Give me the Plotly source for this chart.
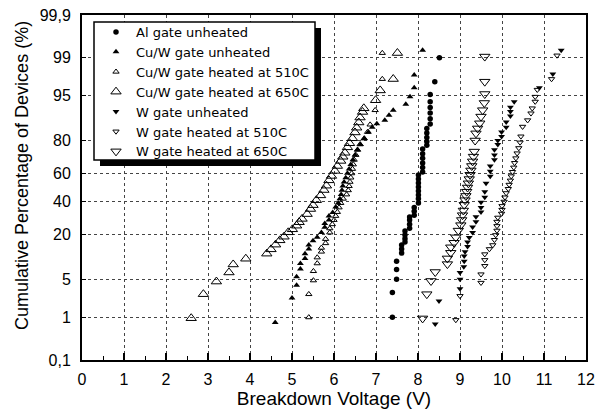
import plotly.graph_objects as go
from statistics import NormalDist

nd = NormalDist()

def probit(values):
    return [nd.inv_cdf(v / 100.0) for v in values]

# ---------------- data (breakdown voltage in V, cumulative percentage in %) ----------------
al_v = [7.39, 7.39, 7.49, 7.49, 7.49, 7.61, 7.61, 7.61, 7.69, 7.69, 7.69, 7.69,
        7.80, 7.80, 7.80, 7.80, 7.91, 7.91, 7.91,
        8.01, 8.01, 8.01, 8.01, 8.01, 8.01, 8.01, 8.01,
        8.11, 8.11, 8.11, 8.11, 8.11, 8.11,
        8.21, 8.21, 8.21, 8.21, 8.21,
        8.29, 8.29, 8.29, 8.29, 8.29, 8.29, 8.40, 8.51]
al_p = [1.0, 3.0, 5.0, 7.1, 9.3, 12.0, 13.5, 15.2, 16.5, 17.9, 19.7, 21.8,
        23.3, 25.5, 28.0, 29.9, 31.0, 33.5, 36.0,
        39.0, 42.0, 44.7, 47.5, 50.4, 53.3, 56.0, 58.8,
        61.0, 64.0, 67.0, 70.0, 72.8, 75.5,
        77.5, 79.5, 81.5, 83.5, 85.5,
        87.2, 89.1, 90.9, 92.4, 93.8, 95.2, 97.1, 99.0]

cuw_v = [4.60, 5.00, 5.11, 5.11, 5.20, 5.20, 5.31, 5.31, 5.40, 5.40, 5.50, 5.60,
         5.70, 5.78, 5.78, 5.88, 5.88, 5.97, 6.04, 6.10, 6.14, 6.17, 6.19, 6.21,
         6.24, 6.28, 6.32, 6.36, 6.40, 6.45, 6.50, 6.56, 6.63, 6.72, 6.82, 6.91,
         7.02, 7.21, 7.31, 7.41, 7.71, 7.81, 7.91, 7.91, 8.11]
cuw_p = [0.78, 2.4, 4.0, 5.5, 7.2, 8.7, 10.2, 11.8, 13.5, 15.1, 17.0, 18.6,
         21.0, 23.8, 26.0, 28.0, 30.5, 32.7, 36.3, 39.0, 42.0, 45.0, 48.0, 51.0,
         54.0, 57.0, 60.0, 63.0, 66.0, 69.0, 72.0, 75.0, 78.0, 81.0, 84.0, 86.0,
         87.3, 88.6, 90.2, 91.7, 93.2, 94.8, 96.3, 97.8, 99.3]

cuw510_v = [5.40, 5.40, 5.51, 5.51, 5.60, 5.60, 5.70, 5.70, 5.80, 5.80, 5.90, 5.90,
            5.96, 6.00, 6.04, 6.08, 6.12, 6.16, 6.22, 6.30, 6.34, 6.36, 6.38, 6.40,
            6.42, 6.44, 6.46, 6.48, 6.52, 6.56, 6.62, 6.72, 6.80, 6.86, 6.98, 7.15, 7.15]
cuw510_p = [1.0, 2.8, 4.8, 6.7, 8.7, 10.5, 12.5, 14.0, 15.9, 17.8, 21.0, 23.2,
            25.5, 28.0, 30.5, 33.0, 36.0, 39.0, 42.0, 45.0, 48.0, 51.0, 54.0, 57.0,
            60.0, 63.0, 66.0, 69.0, 72.0, 75.0, 78.0, 81.0, 84.0, 87.0, 91.7, 97.4, 99.2]

cuw650_v = [2.60, 2.89, 3.20, 3.50, 3.60, 3.90, 4.40, 4.50, 4.61, 4.71, 4.81, 4.91,
            5.01, 5.11, 5.17, 5.24, 5.36, 5.44, 5.50, 5.58, 5.68, 5.76, 5.82, 5.88,
            5.94, 6.02, 6.08, 6.16, 6.21, 6.26, 6.32, 6.37, 6.44, 6.50, 6.54, 6.59,
            6.62, 6.68, 6.71, 6.99, 7.10, 7.41, 7.51]
cuw650_p = [0.96, 2.8, 4.6, 6.4, 8.4, 10.1, 11.8, 13.4, 15.3, 17.2, 18.9, 21.1,
            22.7, 24.7, 26.7, 28.7, 31.7, 35.0, 37.6, 41.0, 44.4, 48.2, 51.3, 55.1,
            58.2, 61.7, 65.0, 68.3, 70.9, 73.3, 76.4, 78.6, 81.1, 83.8, 85.8, 87.8,
            89.5, 91.2, 92.2, 94.1, 95.9, 97.4, 99.2]

w_v = [8.41, 8.50, 9.00, 9.00, 9.00, 9.09, 9.10, 9.10, 9.12, 9.18, 9.18, 9.22,
       9.30, 9.30, 9.38, 9.38, 9.50, 9.50, 9.50, 9.59, 9.59, 9.62, 9.72, 9.72,
       9.72, 9.82, 9.82, 9.82, 9.90, 9.90, 9.99, 9.99, 10.10, 10.10, 10.20, 10.20,
       10.20, 10.29, 10.89, 11.21, 11.41]
w_p = [0.72, 2.1, 3.5, 5.0, 6.4, 7.8, 9.3, 11.0, 12.5, 14.5, 16.5, 18.5,
       21.0, 24.0, 27.0, 30.0, 33.0, 36.0, 39.5, 43.0, 47.0, 53.0, 58.0, 61.5,
       65.0, 69.0, 72.0, 75.0, 78.0, 80.0, 82.0, 84.0, 86.0, 88.0, 90.0, 91.3,
       92.5, 93.8, 96.3, 97.9, 99.3]

w510_v = [8.90, 9.00, 9.50, 9.50, 9.59, 9.59, 9.59, 9.70, 9.78, 9.82, 9.85, 9.88,
          9.88, 9.88, 9.90, 9.99, 10.00, 10.00, 10.05, 10.07, 10.10, 10.15, 10.17, 10.20,
          10.22, 10.25, 10.28, 10.30, 10.33, 10.36, 10.40, 10.43, 10.45, 10.49, 10.61, 10.69,
          10.72, 10.79, 10.79, 10.84, 11.18, 11.31]
w510_p = [0.88, 2.6, 4.4, 6.0, 8.0, 9.7, 11.6, 13.5, 15.1, 17.4, 19.7, 22.0,
          24.5, 27.0, 29.5, 32.0, 34.5, 37.0, 40.0, 43.0, 46.0, 49.0, 52.0, 55.0,
          58.0, 61.0, 64.0, 67.0, 70.0, 73.0, 76.0, 79.0, 82.0, 86.2, 88.6, 90.8,
          92.2, 93.8, 94.8, 96.0, 97.4, 99.1]

w650_v = [8.11, 8.21, 8.31, 8.41, 8.70, 8.70, 8.78, 8.78, 8.86, 8.90, 8.96, 9.02,
          9.04, 9.06, 9.08, 9.10, 9.12, 9.14, 9.16, 9.18, 9.20, 9.22, 9.24, 9.26,
          9.28, 9.30, 9.32, 9.34, 9.36, 9.38, 9.42, 9.47, 9.50, 9.54, 9.58, 9.59,
          9.59, 9.59]
w650_p = [0.95, 2.8, 4.7, 6.5, 8.5, 10.2, 12.1, 14.2, 16.1, 18.6, 22.0, 25.0,
          28.0, 31.0, 34.0, 37.8, 41.0, 44.0, 47.0, 50.0, 53.0, 56.0, 59.0, 62.0,
          65.0, 68.0, 71.0, 74.0, 80.0, 83.4, 85.5, 87.5, 89.8, 91.7, 93.5, 95.3,
          97.1, 99.05]

series_names = ["Al gate unheated", "Cu/W gate unheated", "Cu/W gate heated at 510C",
                "Cu/W gate heated at 650C", "W gate unheated", "W gate heated at 510C",
                "W gate heated at 650C"]

y_tick_pct = [0.1, 1, 5, 20, 40, 60, 80, 95, 99, 99.9]
y_tick_text = ["0,1", "1", "5", "20", "40", "60", "80", "95", "99", "99,9"]
x_ticks = list(range(0, 13))
x_title = "Breakdown Voltage (V)"
y_title = "Cumulative Percentage of Devices (%)"

# ---------------- figure ----------------
FONT = "Arial, Liberation Sans, sans-serif"
LEG_FONT = "DejaVu Sans, Arial, sans-serif"
series = [
    (al_v, al_p, dict(symbol="circle", size=5.5, color="black")),
    (cuw_v, cuw_p, dict(symbol="triangle-up", size=6, color="black")),
    (cuw510_v, cuw510_p, dict(symbol="triangle-up-open", size=5.5, color="black", line=dict(width=1))),
    (cuw650_v, cuw650_p, dict(symbol="triangle-up-open", size=9, color="black", line=dict(width=1))),
    (w_v, w_p, dict(symbol="triangle-down", size=6, color="black")),
    (w510_v, w510_p, dict(symbol="triangle-down-open", size=5.5, color="black", line=dict(width=1))),
    (w650_v, w650_p, dict(symbol="triangle-down-open", size=9, color="black", line=dict(width=1))),
]

fig = go.Figure()
for name, (xv, pv, mk) in zip(series_names, series):
    fig.add_trace(go.Scatter(x=xv, y=probit(pv), mode="markers", name=name,
                             marker=mk, cliponaxis=False))

ymin = nd.inv_cdf(0.001)
ymax = nd.inv_cdf(0.999)

W, H = 606, 414
L, R, T, B = 82, 20, 15, 54
pw, ph = W - L - R, H - T - B

def px_to_paper(px, py):
    return (px - L) / pw, (H - B - py) / ph

# legend frame (pixel positions of the reference), drawn as shapes
bx0, by1 = px_to_paper(94, 22)
bx1, by0 = px_to_paper(315, 160)
sx0, sy1 = px_to_paper(100, 28)
sx1, sy0 = px_to_paper(321, 166)
lx0, ly0 = px_to_paper(96, 17)
ytx, yty = px_to_paper(22, 176)

fig.add_shape(type="rect", xref="paper", yref="paper", x0=sx0, x1=sx1, y0=sy0, y1=sy1,
              fillcolor="black", line=dict(width=0), layer="above")
fig.add_shape(type="rect", xref="paper", yref="paper", x0=bx0, x1=bx1, y0=by0, y1=by1,
              fillcolor="white", line=dict(width=1.5, color="black"), layer="above")

fig.add_annotation(text=y_title, xref="paper", yref="paper", x=ytx, y=yty,
                   xanchor="center", yanchor="middle", textangle=-90, showarrow=False,
                   font=dict(family=FONT, size=18, color="black"))

fig.update_layout(
    width=W, height=H,
    margin=dict(l=L, r=R, t=T, b=B, autoexpand=False),
    paper_bgcolor="white", plot_bgcolor="white",
    font=dict(family=FONT, size=16, color="black"),
    showlegend=True,
    legend=dict(x=lx0, y=ly0, xanchor="left", yanchor="top",
                bgcolor="rgba(0,0,0,0)", borderwidth=0,
                font=dict(family=LEG_FONT, size=13, color="black"),
                tracegroupgap=0, itemsizing="trace"),
)

fig.update_xaxes(
    range=[0, 12], tickvals=x_ticks, ticktext=[str(t) for t in x_ticks],
    showgrid=True, gridcolor="#444", griddash="dot", gridwidth=1,
    showline=True, linecolor="black", linewidth=2, mirror=True,
    ticks="inside", ticklen=7, tickwidth=1.5, tickcolor="black",
    minor=dict(dtick=0.5, tick0=0, ticks="inside", ticklen=4, tickwidth=1, tickcolor="black", showgrid=False),
    zeroline=False, ticklabelstandoff=4,
    title=dict(text=x_title, font=dict(size=19), standoff=4),
    tickfont=dict(size=16),
)
fig.update_yaxes(
    range=[ymin, ymax], tickvals=probit(y_tick_pct), ticktext=y_tick_text,
    showgrid=True, gridcolor="#444", griddash="dot", gridwidth=1,
    showline=True, linecolor="black", linewidth=2, mirror=True,
    ticks="inside", ticklen=4, tickwidth=1, tickcolor="black",
    zeroline=False, ticklabelstandoff=6,
    tickfont=dict(size=16),
)

fig.write_html("out.html", config={"displayModeBar": False},
               post_script="document.body.style.margin='0px';")
